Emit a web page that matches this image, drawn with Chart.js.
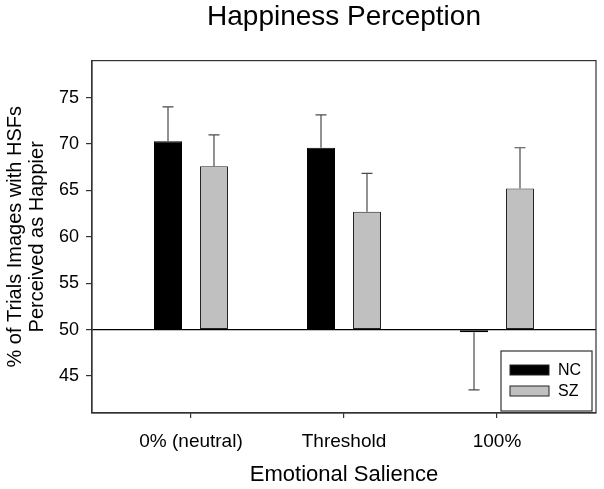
<!DOCTYPE html>
<html>
<head>
<meta charset="utf-8">
<script src="https://cdn.jsdelivr.net/npm/chart.js@4"></script>
<style>
  html, body { margin: 0; padding: 0; background: #fff; }
  #wrap { width: 604px; height: 489px; }
</style>
</head>
<body>
<div id="wrap"><canvas id="chart"></canvas></div>
<script>
// values
const categories = ['0% (neutral)', 'Threshold', '100%']
const ncValues = [70.3, 69.6, 49.7]
const szValues = [67.6, 62.7, 65.2]
const ncErrors = [3.7, 3.55, 6.2]
const szErrors = [3.4, 4.15, 4.4]
const yTicks = [45, 50, 55, 60, 65, 70, 75]
const baseline = 50

const FONT = "'Liberation Sans', Arial, sans-serif"
const INK = '#333'

function points(values) {
  return values.map((v, i) => ({ x: i, y: v }))
}

// one-sided error bars, drawn away from the baseline
const errorBars = {
  id: 'errorBars'
, afterDatasetsDraw(chart) {
    const ctx = chart.ctx
    const y = chart.scales.y
    ctx.save()
    ctx.strokeStyle = '#4a4a4a'
    ctx.lineWidth = 1.2
    chart.data.datasets.forEach((ds, di) => {
      const meta = chart.getDatasetMeta(di)
      meta.data.forEach((bar, i) => {
        const v = ds.data[i].y
        const e = ds.errors[i]
        const end = v >= baseline ? v + e : v - e
        const py = y.getPixelForValue(end)
        ctx.beginPath()
        ctx.moveTo(bar.x, bar.y)
        ctx.lineTo(bar.x, py)
        ctx.moveTo(bar.x - 5.5, py)
        ctx.lineTo(bar.x + 5.5, py)
        ctx.stroke()
      })
    })
    ctx.restore()
  }
}

// frame round the plot and boxed legend in the lower right corner
const frameAndLegend = {
  id: 'frameAndLegend'
, afterLayout(chart) {
    const a = chart.chartArea
    chart.titleBlock.left = a.left
    chart.titleBlock.right = a.right
  }
, afterDraw(chart) {
    const ctx = chart.ctx
    const a = chart.chartArea
    ctx.save()
    ctx.strokeStyle = INK
    ctx.lineWidth = 1.2
    ctx.strokeRect(a.left, a.top, a.right - a.left, a.bottom - a.top)

    const w = 91, h = 60
    const bx = a.right - 4 - w, by = a.bottom - 2 - h
    ctx.fillStyle = '#fff'
    ctx.fillRect(bx, by, w, h)
    ctx.strokeRect(bx, by, w, h)
    ctx.font = '16px ' + FONT
    ctx.textBaseline = 'middle'
    chart.data.datasets.forEach((ds, i) => {
      const cy = by + 19 + i * 21
      ctx.fillStyle = ds.backgroundColor
      ctx.fillRect(bx + 9, cy - 5, 39, 10)
      ctx.strokeStyle = '#222'
      ctx.lineWidth = 1
      ctx.strokeRect(bx + 9, cy - 5, 39, 10)
      ctx.fillStyle = '#000'
      ctx.fillText(ds.label, bx + 57, cy + 1)
    })
    ctx.restore()
  }
}

const ctx = document.getElementById('chart').getContext('2d')
new Chart(ctx, {
  type: 'bar'
, data: {
    datasets: [
      { label: 'NC', data: points(ncValues), errors: ncErrors
      , backgroundColor: '#000', borderColor: '#000', borderWidth: 1 }
    , { label: 'SZ', data: points(szValues), errors: szErrors
      , backgroundColor: '#c0c0c0', borderColor: '#222', borderWidth: 1 }
    ]
  }
, options: {
    responsive: true
  , maintainAspectRatio: false
  , animation: false
  , devicePixelRatio: 1
  , layout: { padding: { left: 0, right: 8, top: 0, bottom: 0 } }
  , datasets: {
      bar: { base: baseline, borderSkipped: false
           , categoryPercentage: 0.601, barPercentage: 0.609 }
    }
  , plugins: {
      legend: { display: false }
    , tooltip: { enabled: false }
    , title: {
        display: true
      , text: 'Happiness Perception'
      , color: '#000'
      , font: { family: FONT, size: 28, weight: 'normal' }
      , padding: { top: 0, bottom: 27 }
      }
    }
  , scales: {
      x: {
        type: 'linear'
      , min: -0.647
      , max: 2.647
      , offset: false
      , afterBuildTicks: s => { s.ticks = categories.map((c, i) => ({ value: i })) }
      , afterFit: s => { s.height = 76 }
      , ticks: {
          callback: v => categories[v]
        , color: '#000'
        , font: { family: FONT, size: 19 }
        , padding: 12
        , maxRotation: 0
        , autoSkip: false
        }
      , grid: { offset: false, drawOnChartArea: false, tickLength: 5, color: INK, lineWidth: 1.2 }
      , border: { color: INK, width: 1.2 }
      , title: {
          display: true
        , text: 'Emotional Salience'
        , color: '#000'
        , font: { family: FONT, size: 22 }
        , padding: { top: 0, bottom: 1 }
        }
      }
    , y: {
        min: 41
      , max: 79
      , afterBuildTicks: s => { s.ticks = yTicks.map(v => ({ value: v })) }
      , afterFit: s => { s.width = 92 }
      , ticks: {
          color: '#000'
        , font: { family: FONT, size: 18 }
        , padding: 7
        }
      , grid: {
          color: c => c.tick && c.tick.value === baseline ? '#000' : 'rgba(0,0,0,0)'
        , tickColor: INK
        , tickLength: 6
        , lineWidth: 1.2
        }
      , border: { color: INK, width: 1.2 }
      , title: {
          display: true
        , text: ['% of Trials Images with HSFs', 'Perceived as Happier']
        , color: '#000'
        , font: { family: FONT, size: 20, lineHeight: 1.1 }
        , padding: { top: 4, bottom: 0 }
        }
      }
    }
  }
, plugins: [errorBars, frameAndLegend]
})
</script>
</body>
</html>
